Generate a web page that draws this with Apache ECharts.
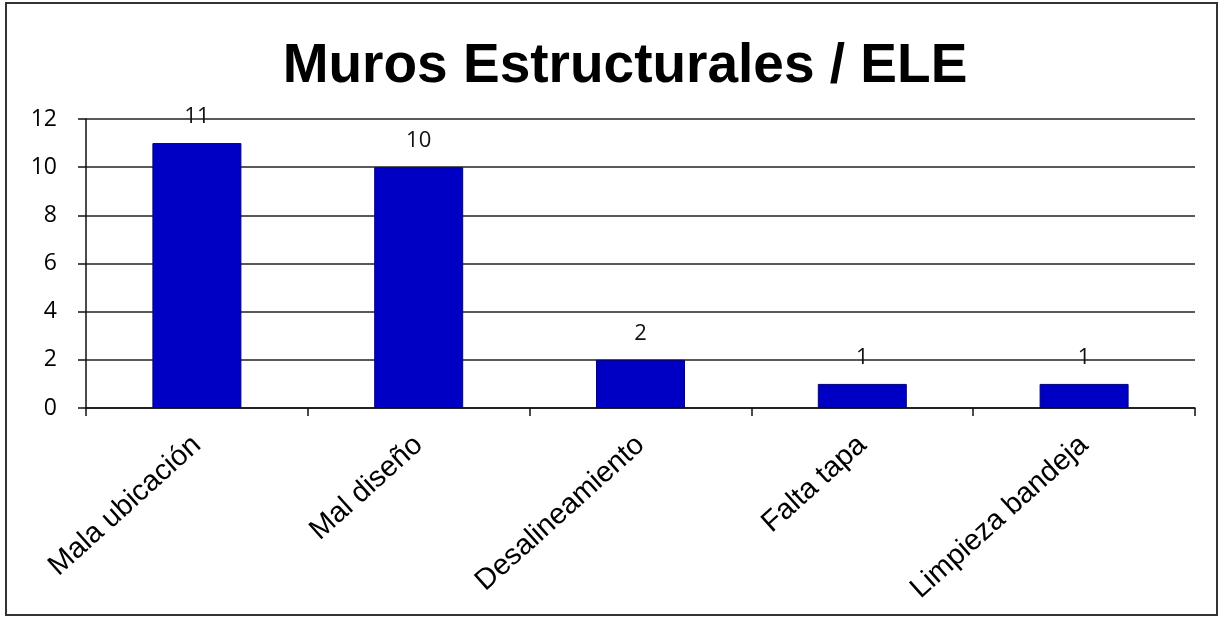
<!DOCTYPE html>
<html>
<head>
<meta charset="utf-8">
<script src="https://cdn.jsdelivr.net/npm/echarts@6/dist/echarts.min.js"></script>
<style>
  html, body { margin: 0; padding: 0; background: #fff; }
  #chart { width: 1222px; height: 619px; }
</style>
</head>
<body>
<div id="chart"></div>
<script>
const categories = ["Mala ubicación", "Mal diseño", "Desalineamiento", "Falta tapa", "Limpieza bandeja"];
const counts = [11, 10, 2, 1, 1];

let myChart = echarts.init(document.getElementById("chart"));
const options = {
  animation: false,
  backgroundColor: "#fff",
  title: {
    text: "Muros Estructurales / ELE",
    left: 620,
    top: 34,
    textAlign: "center",
    textStyle: {
      fontFamily: "Liberation Sans, Arial, sans-serif",
      fontSize: 55,
      fontWeight: "bold",
      color: "#000",
    },
  },
  graphic: [
    {
      type: "rect",
      shape: { x: 6, y: 3, width: 1211, height: 612 },
      style: { fill: "none", stroke: "#333", lineWidth: 2 },
      silent: true,
    },
  ],
  grid: {
    left: 86,
    right: 27,
    top: 119,
    bottom: 211,
  },
  xAxis: {
    type: "category",
    data: categories,
    axisLine: { lineStyle: { color: "#111", width: 1.5 } },
    axisTick: { show: true, length: 8, lineStyle: { color: "#111", width: 1.5 } },
    axisLabel: {
      interval: 0,
      rotate: 42,
      margin: 33,
      fontFamily: "Liberation Sans, Arial, sans-serif",
      fontSize: 29,
      color: "#000",
    },
  },
  yAxis: {
    type: "value",
    min: 0,
    max: 12,
    interval: 2,
    axisLine: { show: true, lineStyle: { color: "#111", width: 1.5 } },
    axisTick: { show: true, length: 8, lineStyle: { color: "#111", width: 1.5 } },
    axisLabel: {
      margin: 29,
      fontFamily: "Open Sans, Noto Sans, sans-serif",
      fontSize: 23,
      color: "#000",
    },
    splitLine: { show: true, lineStyle: { color: "#222", width: 1.5 } },
  },
  series: [
    {
      type: "bar",
      data: counts,
      barWidth: 89,
      itemStyle: {
        color: "#0000c4",
        borderColor: "#00007a",
        borderWidth: 1,
      },
      label: {
        show: true,
        position: "top",
        distance: 15,
        fontFamily: "Open Sans, Noto Sans, sans-serif",
        fontSize: 22,
        color: "#111",
      },
    },
  ],
};
myChart.setOption(options);
</script>
</body>
</html>
